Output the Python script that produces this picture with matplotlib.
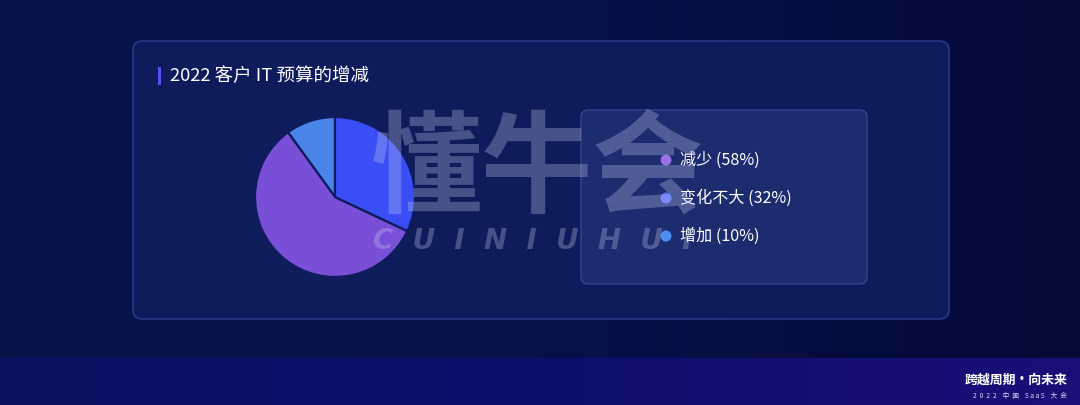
import matplotlib.pyplot as plt
import numpy as np
from matplotlib.patches import FancyBboxPatch, Rectangle, Circle
from matplotlib.colors import LinearSegmentedColormap

plt.rcParams['font.family'] = ['Noto Sans CJK SC', 'DejaVu Sans']

# data
labels = ['减少', '变化不大', '增加']
values = [58, 32, 10]
colors = ['#7a4fd8', '#3a4ef6', '#4a84e8']
dot_colors = ['#9a72e6', '#5b6cff', '#4b8ff2']
title = '2022 客户 IT 预算的增减'

W, H = 1080, 405
fig = plt.figure(figsize=(10.8, 4.05), dpi=100)

# background canvas in pixel coordinates
bg = fig.add_axes([0, 0, 1, 1])
grad = np.linspace(0, 1, 256).reshape(1, -1)
bg.imshow(grad, extent=[0, W, H, 0], aspect='auto', zorder=0,
          cmap=LinearSegmentedColormap.from_list('bg', ['#061349', '#07124a', '#050a38']))
bg.imshow(grad, extent=[0, W, H, 358], aspect='auto', zorder=1,
          cmap=LinearSegmentedColormap.from_list('st', ['#0b1160', '#0e0f6c', '#1a0f78']))
bg.set_xlim(0, W)
bg.set_ylim(H, 0)
bg.axis('off')

# main panel
bg.add_patch(FancyBboxPatch((133, 41), 816, 278, boxstyle='round,pad=0,rounding_size=9',
                            fc='#0e1c5c', ec='#2c3d8c', lw=1, zorder=2))
bg.add_patch(Rectangle((158, 67), 3, 18, fc='#5a4ff0', ec='none', zorder=3))
bg.text(170, 76, title, color='white', fontsize=13.3, va='center', ha='left', zorder=3)

# legend box
bg.add_patch(FancyBboxPatch((581, 110), 286, 174, boxstyle='round,pad=0,rounding_size=7',
                            fc='#1d2b6f', ec='#34458f', lw=1, zorder=2))
for i, (lab, val) in enumerate(zip(labels, values)):
    y = 160 + i * 38
    bg.add_patch(Circle((666, y), 5.5, fc=dot_colors[i], ec='none', zorder=3))
    bg.text(680, y, f'{lab} ({val}%)', color='white', fontsize=11.6,
            va='center', ha='left', zorder=3)

# pie
cx, cy, r = 335, 197, 80
pax = fig.add_axes([(cx - r) / W, (H - cy - r) / H, 2 * r / W, 2 * r / H])
order = [2, 0, 1]
pax.pie([values[i] for i in order], colors=[colors[i] for i in order],
        startangle=90, counterclock=True, radius=1,
        wedgeprops=dict(edgecolor='#0e1c5c', linewidth=1.6, joinstyle='round'))
pax.set_xlim(-1, 1)
pax.set_ylim(-1, 1)
pax.set_aspect('equal')
pax.axis('off')

# watermark
fig.text(538 / W, 1 - 172 / H, '懂牛会', color='#c8d0f0', alpha=0.3, fontsize=80,
         fontweight='bold', style='italic', ha='center', va='center', zorder=10)
fig.text(533 / W, 1 - 241 / H, 'C  U  I  N  I  U  H  U  I', color='#c8d0f0', alpha=0.3,
         fontsize=20, fontweight='bold', style='italic', ha='center', va='center',
         family='DejaVu Sans', zorder=10)

# footer
bg.text(1067, 380, '跨越周期·向未来', color='white', fontsize=9.3, fontweight='bold',
        ha='right', va='center', zorder=4)
bg.text(1067, 396, '2  0  2  2    中  国    S a a S    大  会', color='#d8d8f0', fontsize=4.8,
        ha='right', va='center', zorder=4)

fig.savefig('out.png', dpi=100, facecolor='#061349')
